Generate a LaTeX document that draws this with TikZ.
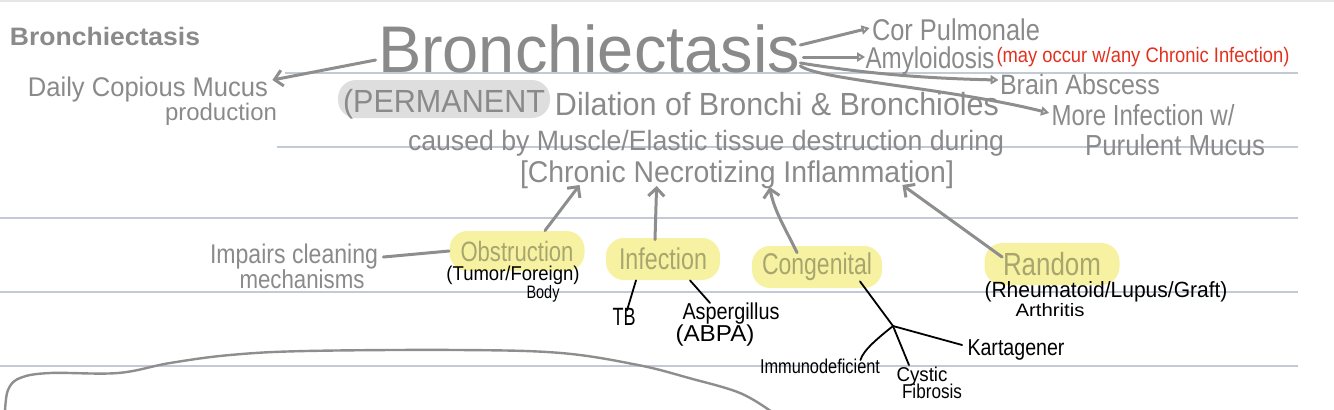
\documentclass[tikz,border=0pt]{standalone}
\usepackage{fontspec}
\setmainfont{Liberation Sans}
\usepackage{graphicx}
\usetikzlibrary{arrows.meta,calc}
\definecolor{ink}{HTML}{8A8A8A}
\definecolor{inkline}{HTML}{8E8E8E}
\definecolor{hlyel}{HTML}{F6F2A2}
\definecolor{hltext}{HTML}{A8A66E}
\definecolor{permgray}{HTML}{DEDEDE}
\definecolor{rulecol}{HTML}{C3CAD6}
\definecolor{redink}{HTML}{E2301F}
\definecolor{topline}{HTML}{E6E6E6}
\newcommand\hw[3]{\resizebox{#1}{\height}{\fontsize{#2}{#2}\selectfont #3}}
\begin{document}
\begin{tikzpicture}[x=0.5pt,y=-0.5pt,
  g/.style={inner sep=0pt, anchor=base, text=ink},
  k/.style={inner sep=0pt, anchor=base, text=black},
  r/.style={inner sep=0pt, anchor=base, text=redink},
  hl/.style={inner sep=0pt, fill=hlyel, text=hltext, rounded corners=9pt},
  gl/.style={draw=inkline, line width=1.5pt, line cap=round, line join=round},
  bl/.style={draw=black, line width=0.9pt, line cap=round},
  chev/.style={-{Straight Barb[length=4pt,width=8pt]}},
  tri/.style={-{Triangle[open,length=4pt,width=4.5pt,line width=1pt]}},
  rule/.style={draw=rulecol, line width=0.8pt}]
\useasboundingbox (0,0) rectangle (1334,409);
% page lines
\draw[draw=topline, line width=0.8pt] (0,1) -- (1334,1);
\draw[rule] (285,73) -- (1298,73);
\draw[rule] (277,147) -- (1298,147);
\draw[rule] (0,218) -- (1298,218);
\draw[rule] (0,292) -- (1298,292);
\draw[rule] (0,366) -- (1298,366);
% highlight behind PERMANENT
\fill[permgray, rounded corners=9pt] (338,80) rectangle (550,118);

% texts
\node[g] (tl) at (105,45) {\hw{95pt}{12.6pt}{\bfseries Bronchiectasis}};
\node[g] (title) at (589,72) {\hw{211pt}{33pt}{Bronchiectasis}};
\node[g] (daily) at (148,96) {\hw{120pt}{13.5pt}{Daily Copious Mucus}};
\node[g] (prod) at (221,120) {\hw{56pt}{12pt}{production}};
\node[g] (cor) at (956,40) {\hw{84pt}{15pt}{Cor Pulmonale}};
\node[g] (amy) at (930,68) {\hw{64.5pt}{15pt}{Amyloidosis}};
\node[r] (may) at (1143,62) {\hw{146.5pt}{10.5pt}{(may occur w/any Chronic Infection)}};
\node[g] (brain) at (1080,94) {\hw{80pt}{14pt}{Brain Abscess}};
\node[g] (more) at (1143,125) {\hw{91.5pt}{14.5pt}{More Infection w/}};
\node[g] (pur) at (1175,155) {\hw{90pt}{14.5pt}{Purulent Mucus}};
\node[g] (perm) at (444,112) {\hw{101pt}{16pt}{(PERMANENT}};
\node[g] (dil) at (777,115) {\hw{222pt}{16pt}{Dilation of Bronchi \& Bronchioles}};
\node[g] (caused) at (706,150) {\hw{298pt}{14pt}{caused by Muscle/Elastic tissue destruction during}};
\node[g] (chr) at (737,182) {\hw{217pt}{15pt}{[Chronic Necrotizing Inflammation]}};
\node[g] (imp) at (294,263) {\hw{84pt}{13.5pt}{Impairs cleaning}};
\node[g] (mech) at (302,288) {\hw{62.5pt}{13pt}{mechanisms}};

\node[hl, minimum width=67.5pt, minimum height=20pt] (obs) at (517,251) {\hw{56.5pt}{14pt}{Obstruction}};
\node[k] (tum) at (513,280) {\hw{66.5pt}{10pt}{(Tumor/Foreign)}};
\node[k] (body) at (543,298) {\hw{16.5pt}{9pt}{Body}};
\node[hl, minimum width=57pt, minimum height=21pt] (inf) at (663,259) {\hw{44pt}{15pt}{Infection}};
\node[k] (tb) at (624,325) {\hw{11.5pt}{12.5pt}{TB}};
\node[k] (asp) at (731,319) {\hw{48.5pt}{11.5pt}{Aspergillus}};
\node[k] (abpa) at (715,341) {\hw{39.5pt}{11.5pt}{(ABPA)}};
\node[hl, minimum width=65pt, minimum height=21pt] (cong) at (817,267) {\hw{55pt}{15pt}{Congenital}};
\node[hl, minimum width=67.5pt, minimum height=21pt] (rand) at (1052,264) {\hw{49pt}{16pt}{Random}};
\node[k] (rheu) at (1106,297) {\hw{121.5pt}{11pt}{(Rheumatoid/Lupus/Graft)}};
\node[k] (arth) at (1050,316) {\hw{34.5pt}{9pt}{Arthritis}};
\node[k] (kart) at (1016,355) {\hw{48.5pt}{11.5pt}{Kartagener}};
\node[k] (imm) at (820,373) {\hw{60pt}{10pt}{Immunodeficient}};
\node[k] (cys) at (922,381) {\hw{25.5pt}{10pt}{Cystic}};
\node[k] (fib) at (932,398) {\hw{30pt}{10pt}{Fibrosis}};
\coordinate (jct) at (893,326);

% connectors from title
\draw[gl, chev] ($(title.base west)+(-2,-12)$) -- ($(daily.base east)+(4,-16)$);
\draw[gl, tri] ($(title.base east)+(0,-27)$) -- ($(cor.base west)+(-2,-12)$);
\draw[gl, tri] ($(title.base east)+(3,-15)$) -- ($(amy.base west)+(0,-11)$);
\draw[gl, tri] ($(title.base east)+(0,-9)$) .. controls +(50,8) and +(-90,-2) .. ($(brain.base west)+(-1,-14)$);
\draw[gl, tri] ($(title.base east)+(0,-6)$) .. controls +(20,14) and +(-100,-25) .. ($(more.base west)+(-2,-12)$);

% causes
\draw[gl] ($(imp.base east)+(5,-6)$) -- (obs.west);
\draw[gl, chev] ($(obs.north)+(28,0)$) -- ($(chr.base west)+(60,3)$);
\draw[gl, chev] ($(inf.north)+(-8,2)$) -- ($(chr.base west)+(137,4)$);
\draw[gl, chev] ($(cong.north)+(-20,7)$) .. controls +(-12,-25) and +(5,25) .. ($(chr.base west)+(250,5)$);
\draw[gl, chev] ($(rand.west)+(18,-7)$) -- ($(chr.base east)+(-52,3)$);

% black branches
\draw[bl] ($(inf.south)+(-27,0)$) -- ($(tb.north)+(3,3)$);
\draw[bl] ($(inf.south)+(27,0)$) -- ($(asp.north)+(-21,1)$);
\draw[bl] ($(cong.south)+(43,-7)$) -- (jct);
\draw[bl] (jct) -- ($(kart.base west)+(-5,-10)$);
\draw[bl] (jct) -- ($(cys.north)+(-13,-1)$);
\draw[bl] (jct) .. controls +(-15,12) and +(3,-10) .. ($(imm.base east)+(-20,-13)$);

% bottom hand-drawn curve
\draw[gl, line width=1.2pt] plot[smooth, tension=0.6] coordinates {(5,412) (8,390) (20,378) (50,373) (118,373) (170,363) (230,355) (306,351) (459,350) (561,353) (638,365) (689,378) (740,393) (772,412)};
\end{tikzpicture}
\end{document}
